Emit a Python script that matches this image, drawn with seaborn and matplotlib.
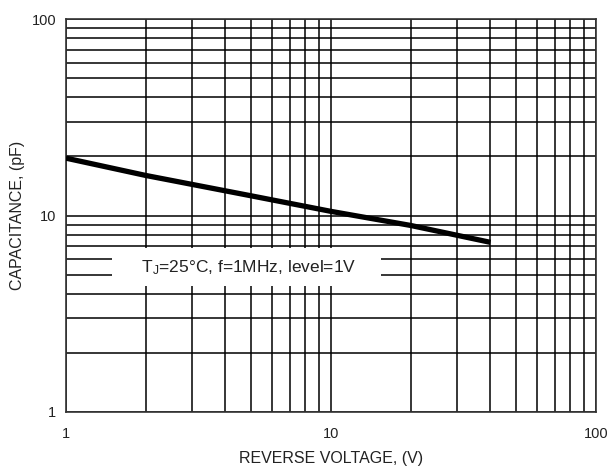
import pandas as pd
import matplotlib.pyplot as plt
import seaborn as sns
from matplotlib.ticker import LogLocator, FixedLocator, FixedFormatter, NullFormatter

# Werte
reverse_voltage = [1, 2, 5, 10, 20, 40]
capacitance = [19.6, 16.0, 12.6, 10.5, 8.9, 7.3]
tick_values = [1, 10, 100]
tick_labels = ['1', '10', '100']

df = pd.DataFrame({'voltage': reverse_voltage, 'capacitance': capacitance})

sns.set_style("white")
plt.rcParams['font.family'] = ['Liberation Sans', 'DejaVu Sans']
plt.rcParams['mathtext.fontset'] = 'custom'
plt.rcParams['mathtext.rm'] = 'Liberation Sans'
plt.rcParams['mathtext.it'] = 'Liberation Sans'

fig = plt.figure(figsize=(6.1, 4.67), dpi=100)
ax = fig.add_axes([0.108, 0.118, 0.869, 0.841])

sns.lineplot(data=df, x='voltage', y='capacitance', color='black', linewidth=3.8,
             solid_capstyle='butt', ax=ax, zorder=5)

ax.set_xscale('log')
ax.set_yscale('log')
ax.set_xlim(1, 100)
ax.set_ylim(1, 100)

for axis in (ax.xaxis, ax.yaxis):
    axis.set_major_locator(FixedLocator(tick_values))
    axis.set_major_formatter(FixedFormatter(tick_labels))
    axis.set_minor_locator(LogLocator(base=10, subs=range(2, 10)))
    axis.set_minor_formatter(NullFormatter())

ax.grid(True, which='both', color='black', linewidth=1.1)
ax.tick_params(which='both', length=0)
ax.tick_params(axis='x', pad=11, labelsize=10.5, colors='#222222')
ax.tick_params(axis='y', pad=7, labelsize=10.5, colors='#222222')
for s in ax.spines.values():
    s.set_color('#333333')
    s.set_linewidth(1.2)

ax.text(4.8, 5.45, '    T$_J$=25°C, f=1MHz, level=1V    ', ha='center', va='center',
        fontsize=12.5, color='#222222', zorder=6,
        bbox=dict(facecolor='white', edgecolor='none', pad=7))

ax.set_xlabel('REVERSE VOLTAGE, (V)', fontsize=11.5, labelpad=7, color='#222222')
ax.set_ylabel('CAPACITANCE, (pF)', fontsize=11.5, labelpad=5, color='#222222')

plt.savefig('out.png', dpi=100)
